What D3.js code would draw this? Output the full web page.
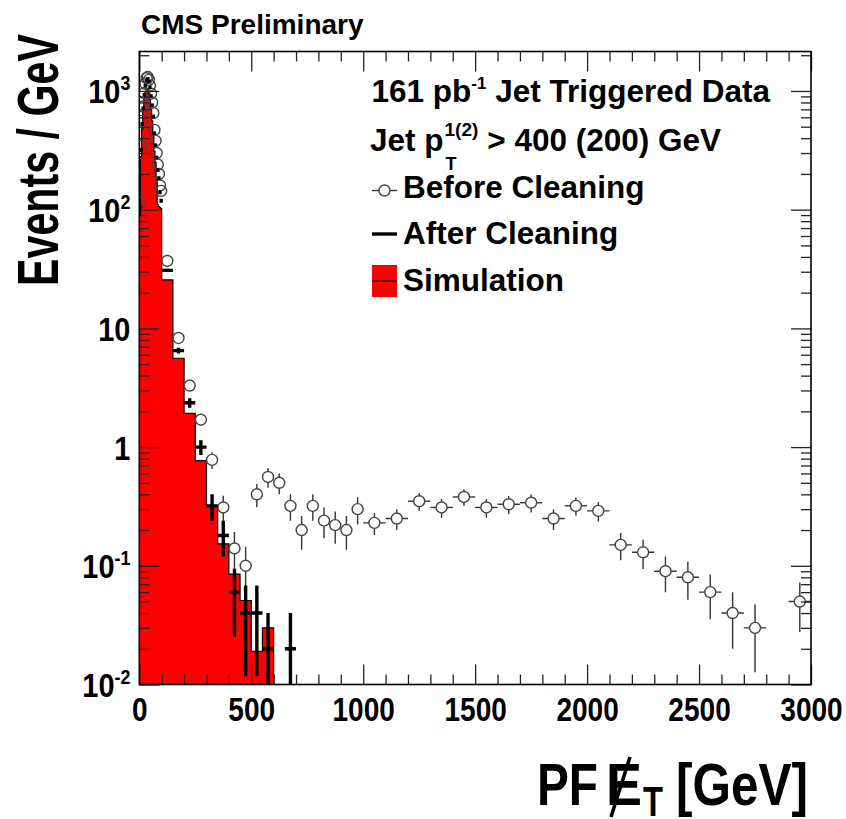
<!DOCTYPE html>
<html>
<head>
<meta charset="utf-8">
<script src="https://cdn.jsdelivr.net/npm/d3@7"></script>
<style>
body{margin:0;background:#fff;}
svg text{font-family:"Liberation Sans",Arial,Helvetica,sans-serif;font-weight:bold;fill:#000;}
</style>
</head>
<body>
<div id="SVGContainer"></div>
<script>
// bins: 5 GeV below 100 GeV, 50 GeV up to 1000 GeV, 100 GeV above (Events / GeV)
const fineCenters = [2.5,7.5,12.5,17.5,22.5,27.5,32.5,37.5,42.5,47.5,52.5,57.5,62.5,67.5,72.5,77.5,82.5,87.5,92.5,97.5];
const beforeFine = [115,345,560,740,960,1150,1280,1310,1240,1110,950,800,650,470,380,300,240,200,160,144];
const afterFine = [105,320,530,715,930,1110,1240,1270,1200,1070,910,760,610,440,350,275,215,185,140,119];

const midCenters = [125,175,225,275,325,375,425,475,525,575,625,675,725,775,825,875,925,975];
const beforeMid = [37,8.3,3.3,1.7,0.78,0.31,0.14,0.1,0.4,0.56,0.5,0.32,0.2,0.32,0.24,0.22,0.2,0.3];
const afterMid = [30.8,6.5,2.36,1.0,0.32,0.18,0.06,0.04,0.04,0.02,0,0.02,0,0,0,0,0,0];

const coarseCenters = [1050,1150,1250,1350,1450,1550,1650,1750,1850,1950,2050,2150,2250,2350,2450,2550,2650,2750,2850,2950];
const beforeCoarse = [0.23,0.25,0.35,0.31,0.38,0.31,0.33,0.34,0.25,0.32,0.29,0.15,0.13,0.09,0.08,0.06,0.04,0.03,0,0.05];

// simulation histogram: lower bin edges and heights, last edge at 600
const simEdges = [0,5,10,15,20,25,30,35,40,45,50,55,60,65,70,75,80,85,90,95,100,150,200,250,300,350,400,450,500,550];
const simValues = [90,280,480,690,870,990,1050,1030,950,850,700,560,420,310,250,180,110,106,104,102,25.6,5.6,1.92,0.77,0.32,0.153,0.085,0.051,0.019,0.03];
const simLastEdge = 600;

const xMajorTicks = [0,500,1000,1500,2000,2500,3000];
const yTickValues = [0.01,0.1,1,10,100,1000];
const yTickBase = ["10","10","1","10","10","10"];
const yTickExp = ["-2","-1","","","2","3"];

const W = 846, H = 819;
const X0 = 139.3, X1 = 811, Y0 = 684.5, Y1 = 51.5;

const svg = d3.select("#SVGContainer")
  .append("svg")
  .attr("width", W)
  .attr("height", H);

const x = d3.scaleLinear().domain([0, 3000]).range([X0, X1]);
const y = d3.scaleLog().domain([0.01, 2150]).range([Y0, Y1]);

function binWidth(c) {
  return c < 100 ? 5 : (c < 1000 ? 50 : 100);
}

function makePoints(centers, vals) {
  return centers.map((c, i) => {
    const w = binWidth(c);
    const v = vals[i];
    return { c: c, w: w, v: v, e: Math.sqrt(v * w) / w };
  }).filter(d => d.v > 0);
}

const before = makePoints(fineCenters.concat(midCenters, coarseCenters), beforeFine.concat(beforeMid, beforeCoarse));
const after = makePoints(fineCenters.concat(midCenters), afterFine.concat(afterMid));

svg.append("clipPath").attr("id", "plotClip")
  .append("rect").attr("x", X0).attr("y", Y1).attr("width", X1 - X0).attr("height", Y0 - Y1);

const plot = svg.append("g").attr("clip-path", "url(#plotClip)");

// simulation
const simPts = simEdges.map((e, i) => [e, simValues[i]]);
simPts.push([simLastEdge, simValues[simValues.length - 1]]);

plot.append("path")
  .attr("d", d3.area().curve(d3.curveStepAfter)
    .x(d => x(d[0])).y0(Y0).y1(d => y(d[1]))(simPts))
  .attr("fill", "#ff0000");

const outline = [[0, 0.01]].concat(simPts, [[simLastEdge, 0.01]]);
plot.append("path")
  .attr("d", d3.line().curve(d3.curveStepAfter).x(d => x(d[0])).y(d => y(d[1]))(outline))
  .attr("fill", "none")
  .attr("stroke", "#000")
  .attr("stroke-width", 1.2);

// before cleaning: open circles, error bars with a gap round the marker
const R = 5.5;
const gBefore = plot.append("g").attr("stroke", "#333").attr("stroke-width", 1.4).attr("fill", "none");
before.forEach(d => {
  const cx = x(d.c), cy = y(d.v);
  const yHi = y(d.v + d.e);
  const yLo = d.v - d.e > 0 ? y(d.v - d.e) : Y0 + 2;
  const xL = x(d.c - d.w / 2), xR = x(d.c + d.w / 2);
  if (cy - R > yHi) gBefore.append("line").attr("x1", cx).attr("x2", cx).attr("y1", yHi).attr("y2", cy - R);
  if (yLo > cy + R) gBefore.append("line").attr("x1", cx).attr("x2", cx).attr("y1", cy + R).attr("y2", yLo);
  if (cx - R > xL) gBefore.append("line").attr("x1", xL).attr("x2", cx - R).attr("y1", cy).attr("y2", cy);
  if (xR > cx + R) gBefore.append("line").attr("x1", cx + R).attr("x2", xR).attr("y1", cy).attr("y2", cy);
  gBefore.append("circle").attr("cx", cx).attr("cy", cy).attr("r", R).attr("stroke", "#444");
});

// after cleaning: thick black crosses
const gAfter = plot.append("g").attr("stroke", "#000").attr("stroke-width", 3.4);
after.forEach(d => {
  const cx = x(d.c), cy = y(d.v);
  const yHi = y(d.v + d.e);
  const yLo = d.v - d.e > 0 ? y(d.v - d.e) : Y0 + 2;
  gAfter.append("line").attr("x1", cx).attr("x2", cx).attr("y1", Math.min(yHi, cy - 1.7)).attr("y2", Math.max(yLo, cy + 1.7));
  gAfter.append("line").attr("x1", x(d.c - d.w / 2)).attr("x2", x(d.c + d.w / 2)).attr("y1", cy).attr("y2", cy);
});

// axes (ROOT style ticks on all four sides)
const xMinorTicks = d3.range(0, 3001, 100).filter(v => v % 500 !== 0);
const yMinorTicks = [];
for (let k = -2; k <= 3; k++) {
  for (let m = 2; m <= 9; m++) {
    const v = m * Math.pow(10, k);
    if (v < 2150) yMinorTicks.push(v);
  }
}

function styleAxis(g) {
  g.select(".domain").remove();
  g.selectAll(".tick line").attr("stroke", "#222").attr("stroke-width", 1.3);
}

svg.append("g").attr("transform", `translate(0,${Y0})`)
  .call(d3.axisBottom(x).tickValues(xMinorTicks).tickSize(-10).tickFormat("")).call(styleAxis);
svg.append("g").attr("transform", `translate(0,${Y1})`)
  .call(d3.axisTop(x).tickValues(xMinorTicks).tickSize(-10).tickFormat("")).call(styleAxis);
svg.append("g").attr("transform", `translate(0,${Y1})`)
  .call(d3.axisTop(x).tickValues(xMajorTicks).tickSize(-20).tickFormat("")).call(styleAxis);

const sx = 0.85;
const xAxis = svg.append("g").attr("transform", `translate(0,${Y0})`)
  .call(d3.axisBottom(x).tickValues(xMajorTicks).tickSize(-20).tickFormat(d3.format("d"))).call(styleAxis);
xAxis.selectAll(".tick text")
  .attr("y", 36.5).attr("dy", 0)
  .attr("font-size", 33)
  .attr("font-family", "Liberation Sans, Arial, sans-serif")
  .attr("transform", `scale(${sx},1)`);

svg.append("g").attr("transform", `translate(${X0},0)`)
  .call(d3.axisLeft(y).tickValues(yMinorTicks).tickSize(-10).tickFormat("")).call(styleAxis);
svg.append("g").attr("transform", `translate(${X1},0)`)
  .call(d3.axisRight(y).tickValues(yMinorTicks).tickSize(-10).tickFormat("")).call(styleAxis);
svg.append("g").attr("transform", `translate(${X1},0)`)
  .call(d3.axisRight(y).tickValues(yTickValues).tickSize(-20).tickFormat("")).call(styleAxis);

const yAxis = svg.append("g").attr("transform", `translate(${X0},0)`)
  .call(d3.axisLeft(y).tickValues(yTickValues).tickSize(-20)).call(styleAxis);
yAxis.selectAll(".tick text").each(function(d, i) {
  const t = d3.select(this);
  t.text(null)
    .attr("x", -9 / sx).attr("y", 12).attr("dy", 0)
    .attr("text-anchor", "end")
    .attr("font-size", 34)
    .attr("font-family", "Liberation Sans, Arial, sans-serif")
    .attr("transform", `scale(${sx},1)`);
  t.append("tspan").text(yTickBase[i]);
  if (yTickExp[i]) t.append("tspan").attr("font-size", 21).attr("dy", -13).text(yTickExp[i]);
});

// frame
svg.append("rect")
  .attr("x", X0).attr("y", Y1).attr("width", X1 - X0).attr("height", Y0 - Y1)
  .attr("fill", "none").attr("stroke", "#000").attr("stroke-width", 1.6);

// titles
svg.append("text").attr("x", 141).attr("y", 34).attr("font-size", 28).text("CMS Preliminary");

svg.append("text")
  .attr("transform", "translate(58,286) rotate(-90)")
  .attr("font-size", 57)
  .attr("textLength", 252).attr("lengthAdjust", "spacingAndGlyphs")
  .text("Events / GeV");

const xt = svg.append("g");
xt.append("text").attr("x", 537).attr("y", 805).attr("font-size", 60)
  .attr("textLength", 61).attr("lengthAdjust", "spacingAndGlyphs").text("PF");
xt.append("text").attr("x", 606).attr("y", 805).attr("font-size", 60)
  .attr("textLength", 36).attr("lengthAdjust", "spacingAndGlyphs").text("E");
xt.append("line").attr("x1", 611).attr("y1", 817).attr("x2", 630).attr("y2", 757)
  .attr("stroke", "#000").attr("stroke-width", 3.5);
xt.append("text").attr("x", 643).attr("y", 816).attr("font-size", 43)
  .attr("textLength", 20).attr("lengthAdjust", "spacingAndGlyphs").text("T");
xt.append("text").attr("x", 676).attr("y", 805).attr("font-size", 60)
  .attr("textLength", 132).attr("lengthAdjust", "spacingAndGlyphs").text("[GeV]");

// legend
const LF = 31.5;
const leg = svg.append("g");

function textRun(x0, yb, parts) {
  let cx = x0;
  parts.forEach(p => {
    cx += p.gap || 0;
    const t = leg.append("text").attr("x", cx).attr("y", yb + (p.dy || 0))
      .attr("font-size", p.size || LF).text(p.text);
    cx += t.node().getComputedTextLength();
  });
  return cx;
}

textRun(371.5, 102, [
  { text: "161 pb" },
  { text: "-1", size: 17, dy: -13 },
  { text: "Jet Triggered Data", gap: 8.8 }
]);

// Jet p_T^{1(2)} line
const p0 = leg.append("text").attr("x", 370).attr("y", 151).attr("font-size", LF).text("Jet p");
const pEnd = 370 + p0.node().getComputedTextLength();
const sup = leg.append("text").attr("x", pEnd + 1).attr("y", 136).attr("font-size", 19).text("1(2)");
const sub = leg.append("text").attr("x", pEnd + 2).attr("y", 170).attr("font-size", 18).text("T");
const scriptEnd = Math.max(pEnd + 1 + sup.node().getComputedTextLength(), pEnd + 2 + sub.node().getComputedTextLength());
leg.append("text").attr("x", scriptEnd + 9).attr("y", 151).attr("font-size", LF).text("> 400 (200) GeV");

const LX0 = 372, LX1 = 397, LXC = 384.5;
// before cleaning symbol
leg.append("line").attr("x1", LX0).attr("x2", LXC - R).attr("y1", 190.5).attr("y2", 190.5).attr("stroke", "#333").attr("stroke-width", 1.4);
leg.append("line").attr("x1", LXC + R).attr("x2", LX1).attr("y1", 190.5).attr("y2", 190.5).attr("stroke", "#333").attr("stroke-width", 1.4);
leg.append("circle").attr("cx", LXC).attr("cy", 190.5).attr("r", R).attr("fill", "none").attr("stroke", "#444").attr("stroke-width", 1.4);
leg.append("text").attr("x", 403).attr("y", 197.5).attr("font-size", LF).text("Before Cleaning");

// after cleaning symbol
leg.append("line").attr("x1", LX0).attr("x2", LX1).attr("y1", 234).attr("y2", 234).attr("stroke", "#000").attr("stroke-width", 3.4);
leg.append("text").attr("x", 403).attr("y", 244).attr("font-size", LF).text("After Cleaning");

// simulation symbol
leg.append("rect").attr("x", LX0).attr("y", 265).attr("width", LX1 - LX0).attr("height", 32).attr("fill", "#ff0000");
leg.append("line").attr("x1", LX0).attr("x2", LX1).attr("y1", 281).attr("y2", 281).attr("stroke", "#000").attr("stroke-width", 1.2);
leg.append("text").attr("x", 403).attr("y", 291).attr("font-size", LF).text("Simulation");
</script>
</body>
</html>
